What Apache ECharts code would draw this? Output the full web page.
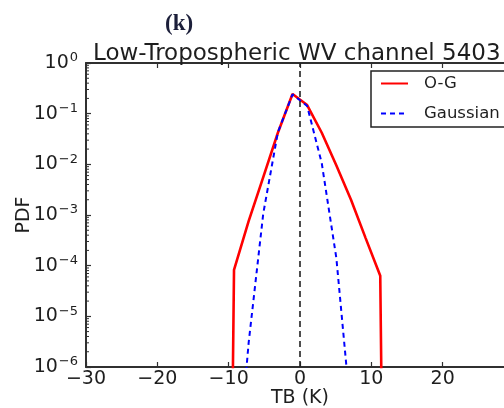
<!DOCTYPE html>
<html>
<head>
<meta charset="utf-8">
<script src="https://cdn.jsdelivr.net/npm/echarts@6/dist/echarts.min.js"></script>
<style>
  html, body { margin: 0; padding: 0; background: #fff; }
  #chart { width: 504px; height: 408px; }
</style>
</head>
<body>
<div id="chart"></div>
<script>
// Brightness-temperature departure bins (K) and their probability densities
const tbCenters = [-11.3, -9.25, -7.2, -5.15, -3.1, -1.05, 1.0, 3.05, 5.1, 7.15, 9.2, 11.25, 13.3];
const ogPdf     = [0, 8.3e-5, 7.6e-4, 5.6e-3, 0.042, 0.245, 0.148, 0.042, 9.5e-3, 2.0e-3, 3.5e-4, 6.3e-5, 0];
const gaussPdf  = [1e-13, 1.3e-9, 3.0e-6, 1.07e-3, 0.043, 0.24, 0.142, 0.0105, 1.4e-4, 1.1e-7, 1e-11, 1e-15, 1e-19];

const xMin = -30, xMax = 30, xStep = 10;
const yMin = 1e-6, yMax = 1;
const zeroLine = 0;

const titleText = 'Low-Tropospheric WV channel 5403';
const panelTag = '(k)';

// Empty bins have no log value; floor them so the curve falls off the bottom of the axis
const LOG_FLOOR = 1e-30;
const pairs = (xs, ys) => xs.map((x, i) => [x, ys[i] > 0 ? ys[i] : LOG_FLOOR]);

// Minor ticks of the log axis at 2..9 x 10^k
const minorTickValues = [];
for (let k = Math.round(Math.log10(yMin)); k < Math.round(Math.log10(yMax)); k++) {
  for (let m = 2; m <= 9; m++) minorTickValues.push(m * Math.pow(10, k));
}

const FONT = 'DejaVu Sans';
const INK = '#1e1e1e';
const AXIS = '#303030';

const supText = v => {
  const e = Math.round(Math.log10(v));
  return '{b|10}{s|' + (e < 0 ? '\u2212' + (-e) : String(e)) + '}';
};

const chart = echarts.init(document.getElementById('chart'), null, { renderer: 'canvas' });

chart.setOption({
  animation: false,
  backgroundColor: '#fff',
  title: [
    {
      text: panelTag, left: 160, top: 8,
      textStyle: { fontFamily: 'Liberation Serif', fontWeight: 'bold', fontSize: 23, color: '#1c1f3a' }
    },
    {
      text: titleText, left: 88, top: 38,
      textStyle: { fontFamily: FONT, fontWeight: 'normal', fontSize: 23, color: INK }
    }
  ],
  legend: {
    orient: 'vertical',
    left: 371, top: 71,
    padding: [4, 12, 5, 9],
    itemWidth: 27, itemHeight: 16, itemGap: 13,
    borderColor: '#222', borderWidth: 1.5, borderRadius: 0,
    itemStyle: { color: 'rgba(0,0,0,0)', borderColor: 'rgba(0,0,0,0)', borderWidth: 0 },
    textStyle: { fontFamily: FONT, fontSize: 16.5, color: INK, padding: [0, 0, 0, 11] },
    data: ['O-G', 'Gaussian']
  },
  grid: { left: 86, top: 63, width: 428, height: 304, containLabel: false, outerBoundsMode: 'none' },
  xAxis: [
    {
      type: 'value', min: xMin, max: xMax, interval: xStep, position: 'bottom',
      name: 'TB (K)', nameLocation: 'middle', nameGap: 22, nameMoveOverlap: false,
      nameTextStyle: { fontFamily: FONT, fontSize: 19, color: INK },
      axisLine: { show: true, onZero: false, lineStyle: { color: AXIS, width: 2 } },
      axisTick: { show: true, inside: true, length: 5, lineStyle: { color: AXIS, width: 1.2 } },
      axisLabel: {
        margin: 3, fontFamily: FONT, fontSize: 19, color: INK, showMaxLabel: false,
        formatter: v => (v < 0 ? '\u2212' + (-v) : String(v))
      },
      splitLine: { show: false }
    },
    {
      type: 'value', min: xMin, max: xMax, interval: xStep, position: 'top',
      axisLine: { show: true, onZero: false, lineStyle: { color: AXIS, width: 2 } },
      axisTick: { show: true, inside: true, length: 5, lineStyle: { color: AXIS, width: 1.2 } },
      axisLabel: { show: false },
      splitLine: { show: false }
    }
  ],
  yAxis: {
    type: 'log', logBase: 10, min: yMin, max: yMax, splitNumber: 6,
    name: 'PDF', nameLocation: 'middle', nameGap: 52, nameRotate: 90, nameMoveOverlap: false,
    nameTextStyle: { fontFamily: FONT, fontSize: 19, color: INK },
    axisLine: { show: true, onZero: false, lineStyle: { color: AXIS, width: 2 } },
    axisTick: { show: true, inside: true, length: 5, lineStyle: { color: AXIS, width: 1.2 } },
    axisLabel: {
      margin: 8,
      formatter: supText,
      rich: {
        b: { fontFamily: FONT, fontSize: 19, color: INK },
        s: { fontFamily: FONT, fontSize: 13, color: INK, verticalAlign: 'top', padding: [0, 0, 10, 1] }
      }
    },
    splitLine: { show: false }
  },
  series: [
    {
      name: 'minor-ticks',
      type: 'custom',
      silent: true,
      data: minorTickValues.map(v => [xMin, v]),
      renderItem: (params, api) => {
        const p = api.coord([api.value(0), api.value(1)]);
        return {
          type: 'line',
          shape: { x1: p[0], y1: p[1], x2: p[0] + 3, y2: p[1] },
          style: { stroke: AXIS, lineWidth: 1 }
        };
      },
      z: 1
    },
    {
      name: 'O-G',
      type: 'line',
      data: pairs(tbCenters, ogPdf),
      symbol: 'none',
      clip: true,
      lineStyle: { color: '#ff0000', width: 2.6 },
      itemStyle: { color: '#ff0000' },
      z: 3
    },
    {
      name: 'Gaussian',
      type: 'line',
      data: pairs(tbCenters, gaussPdf),
      symbol: 'none',
      clip: true,
      lineStyle: { color: '#0000ff', width: 2, type: [5, 4] },
      itemStyle: { color: '#0000ff' },
      z: 4,
      markLine: {
        silent: true,
        symbol: 'none',
        label: { show: false },
        lineStyle: { color: '#222', width: 1.6, type: [6, 4] },
        data: [{ xAxis: zeroLine }]
      }
    }
  ]
});
</script>
</body>
</html>
